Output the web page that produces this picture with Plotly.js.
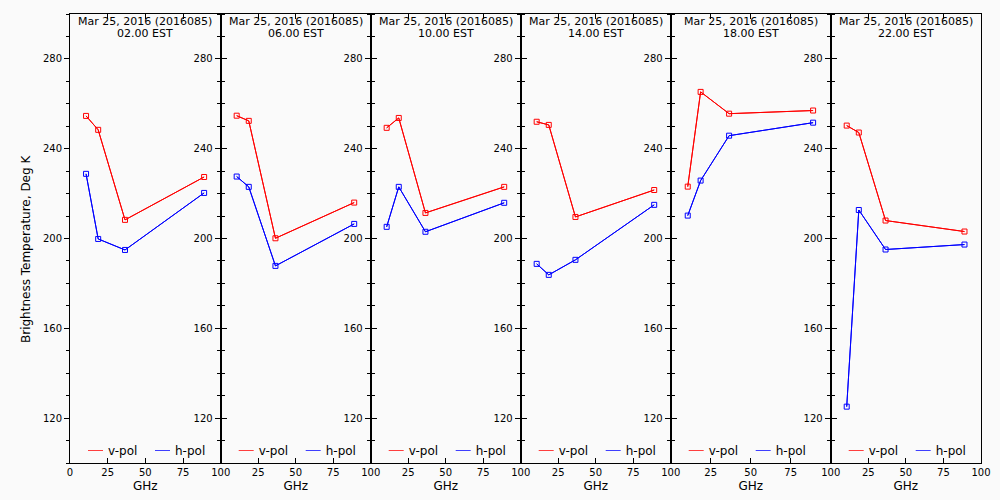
<!DOCTYPE html>
<html>
<head>
<meta charset="utf-8">
<script src="https://cdn.plot.ly/plotly-3.0.1.min.js"></script>
<style>
html,body{margin:0;padding:0;background:#fafafa;}
/* shorter legend line samples, as in the original */
#chart .legendlines path { transform: translate(17.5px, 0.5px) scaleX(0.5); }
</style>
</head>
<body>
<div id="chart" style="width:1000px;height:500px;"></div>
<script>
// ---- data ----
const dateLabel = 'Mar 25, 2016 (2016085)';
const hourLabels = ['02.00 EST', '06.00 EST', '10.00 EST', '14.00 EST', '18.00 EST', '22.00 EST'];
const freqs = [10.65, 18.7, 36.5, 89.0];
const vpol0200 = [254.6, 248.4, 208.3, 227.4];
const hpol0200 = [228.8, 199.8, 194.9, 220.3];
const vpol0600 = [254.7, 252.4, 200.1, 216.0];
const hpol0600 = [227.6, 223.0, 187.8, 206.5];
const vpol1000 = [249.3, 253.7, 211.4, 223.0];
const hpol1000 = [205.2, 223.0, 203.0, 215.9];
const vpol1400 = [252.0, 250.6, 209.6, 221.6];
const hpol1400 = [188.7, 183.8, 190.5, 215.0];
const vpol1800 = [223.1, 265.3, 255.6, 257.0];
const hpol1800 = [210.2, 225.8, 245.8, 251.6];
const vpol2200 = [250.3, 247.2, 208.0, 203.1];
const hpol2200 = [125.1, 212.7, 195.1, 197.3];
const vpolSeries = [vpol0200, vpol0600, vpol1000, vpol1400, vpol1800, vpol2200];
const hpolSeries = [hpol0200, hpol0600, hpol1000, hpol1400, hpol1800, hpol2200];
const seriesNames = ['v-pol', 'h-pol'];
const xTicksFirst = [0, 25, 50, 75, 100];
const xTicksOther = [25, 50, 75, 100];
const yTicks = [120, 160, 200, 240, 280];
const yTitle = 'Brightness Temperature, Deg K';
const xTitle = 'GHz';

// ---- layout helpers ----
const FONT = 'DejaVu Sans, Liberation Sans, sans-serif';
const RED = '#ff0000', BLUE = '#0000ff';
const plotW = 911, plotH = 449;
const edgesPx = [0, 150.7, 300.7, 450.7, 600.7, 760.7, 911];
const edges = edgesPx.map(v => v / plotW);
const py = p => 1 - (p - 14) / plotH;
const legendOffsetsPx = [-2, 65];

const traces = [];
const layout = {
  width: 1000, height: 500,
  margin: {l: 70, r: 19, t: 14, b: 37},
  paper_bgcolor: '#fafafa', plot_bgcolor: '#fafafa',
  font: {family: FONT, size: 10, color: '#000'},
  showlegend: true,
  annotations: [],
  hovermode: false
};

for (let i = 0; i < 6; i++) {
  const n = i + 1;
  const xa = n === 1 ? 'x' : 'x' + n;
  const ya = n === 1 ? 'y' : 'y' + n;
  const series = [[vpolSeries[i], RED, seriesNames[0]], [hpolSeries[i], BLUE, seriesNames[1]]];
  series.forEach(([vals, col, name], s) => {
    const k = 2 * i + s + 1;
    const lg = k === 1 ? 'legend' : 'legend' + k;
    traces.push({
      x: freqs, y: vals, xaxis: xa, yaxis: ya, type: 'scatter', mode: 'lines+markers',
      line: {color: col, width: 1},
      marker: {symbol: 'square-open', size: 5, color: col, line: {width: 1, color: col}},
      showlegend: false, name: name
    });
    traces.push({
      x: freqs, y: vals, xaxis: xa, yaxis: ya, type: 'scatter', mode: 'lines',
      line: {color: col, width: 1}, showlegend: true, legend: lg, name: name
    });
    layout[lg] = {
      orientation: 'h', x: edges[i] + legendOffsetsPx[s] / plotW, xanchor: 'left',
      y: py(450), yanchor: 'middle',
      bgcolor: 'rgba(0,0,0,0)', font: {size: 12, family: FONT}, itemwidth: 30,
      tracegroupgap: 0, borderwidth: 0
    };
  });
  const xKey = n === 1 ? 'xaxis' : 'xaxis' + n;
  const yKey = n === 1 ? 'yaxis' : 'yaxis' + n;
  const tv = n === 1 ? xTicksFirst : xTicksOther;
  layout[xKey] = {
    domain: [edges[i], edges[i + 1]], anchor: ya, range: [0, 100],
    tickvals: tv, ticktext: tv.map(String),
    ticks: 'inside', ticklen: 5, tickcolor: '#000', mirror: 'ticks',
    showline: true, linecolor: '#000', linewidth: 1, showgrid: false, zeroline: false,
    tickfont: {size: 10},
    title: {text: xTitle, font: {size: 12}, standoff: 4}
  };
  layout[yKey] = {
    domain: [0, 1], anchor: xa, range: [100, 300],
    tickvals: yTicks, ticktext: yTicks.map(String),
    ticks: 'outside', ticklen: 5, tickcolor: '#000', mirror: n === 6 ? true : 'ticks',
    minor: {dtick: 10, tick0: 100, ticks: 'outside', ticklen: 3, tickcolor: '#000'},
    showline: true, linecolor: '#000', linewidth: 1, showgrid: false, zeroline: false,
    tickfont: {size: 10}
  };
  layout.annotations.push({
    xref: xa + ' domain', yref: 'paper', x: 0.5, y: py(21.5), xanchor: 'center', yanchor: 'middle',
    text: dateLabel, showarrow: false, font: {size: 11, family: FONT}
  });
  layout.annotations.push({
    xref: xa + ' domain', yref: 'paper', x: 0.5, y: py(33), xanchor: 'center', yanchor: 'middle',
    text: hourLabels[i], showarrow: false, font: {size: 11, family: FONT}
  });
}
// right-side inward ticks on the last panel
layout.yaxis7 = {
  overlaying: 'y6', side: 'right', anchor: 'x6', range: [100, 300],
  tickvals: yTicks, showticklabels: false,
  ticks: 'inside', ticklen: 5, tickcolor: '#000',
  minor: {dtick: 10, tick0: 100, ticks: 'inside', ticklen: 3, tickcolor: '#000'},
  showline: false, showgrid: false, zeroline: false
};
layout.annotations.push({
  xref: 'paper', yref: 'paper', x: (26 - 70) / plotW, y: py(249), xanchor: 'center', yanchor: 'middle',
  text: yTitle, textangle: -90, showarrow: false, font: {size: 12, family: FONT}
});

Plotly.newPlot('chart', traces, layout, {staticPlot: true});
</script>
</body>
</html>
